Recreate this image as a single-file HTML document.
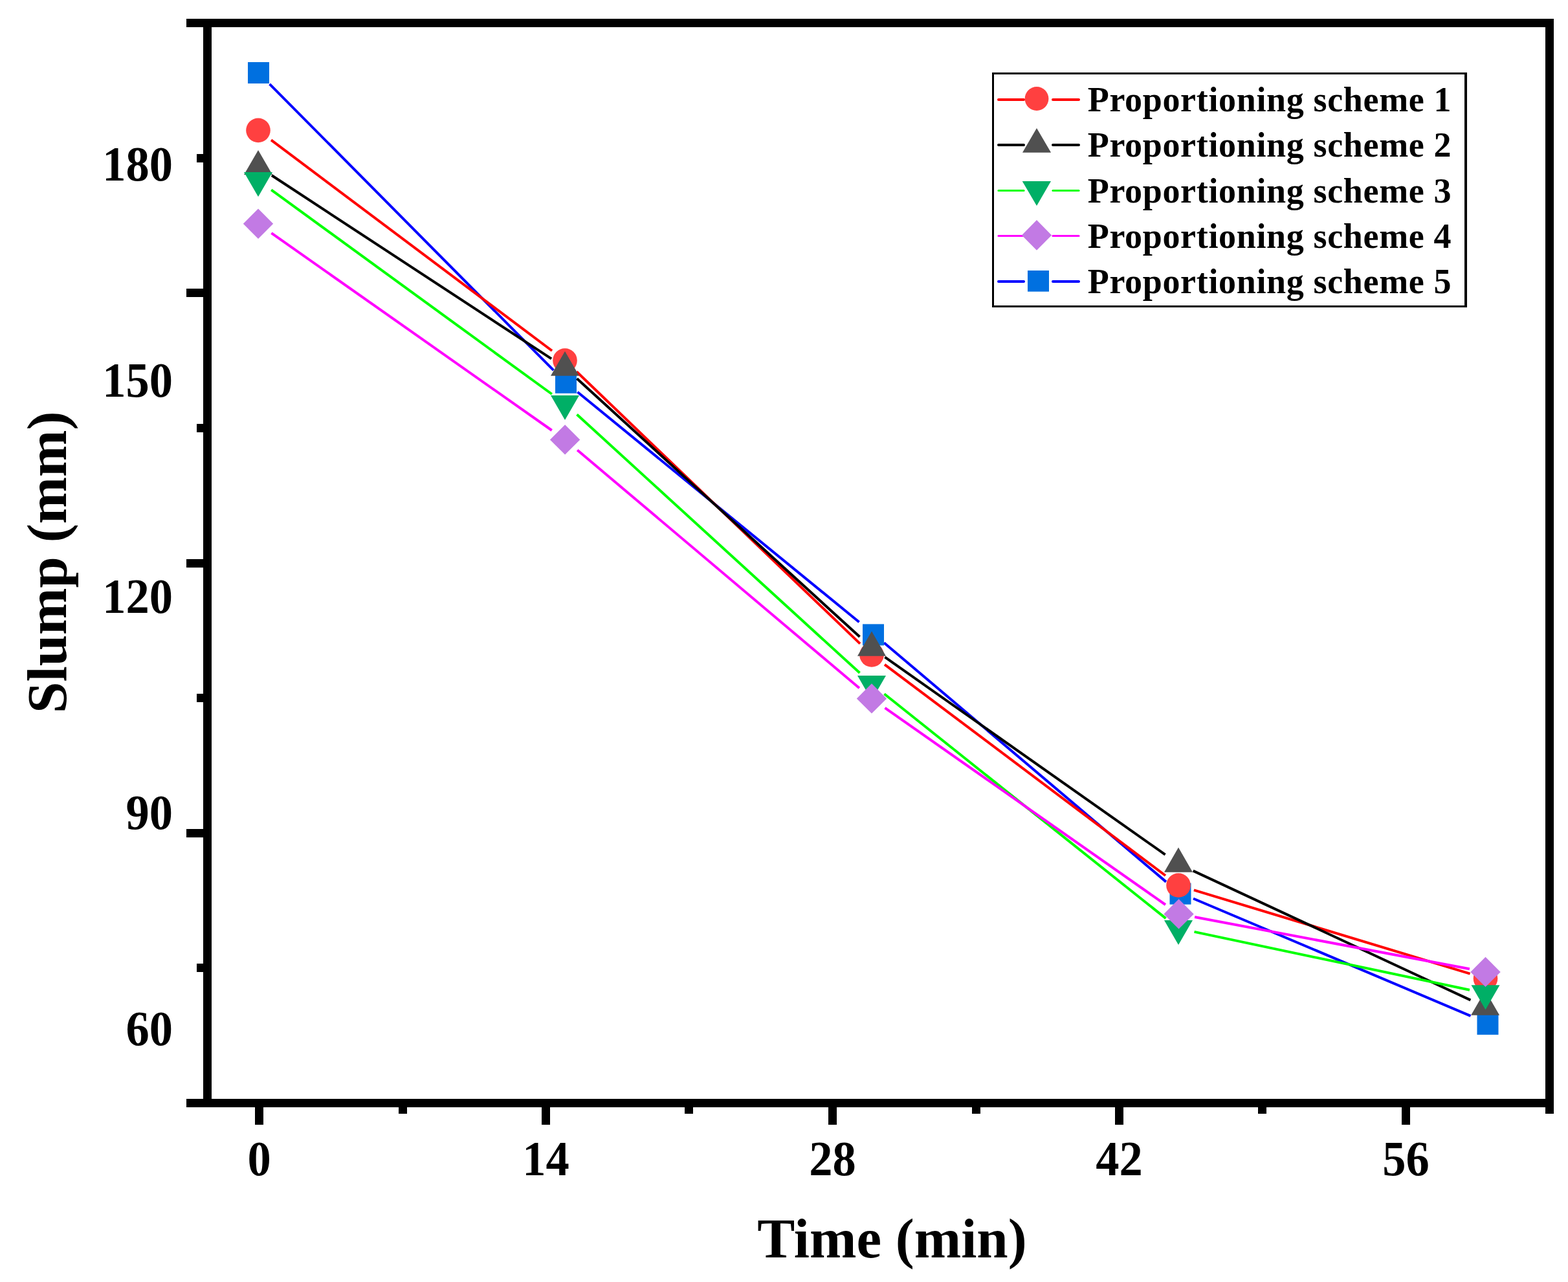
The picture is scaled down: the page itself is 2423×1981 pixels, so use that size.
<!DOCTYPE html>
<html><head><meta charset="utf-8"><style>
html,body{margin:0;padding:0;background:#fff;overflow:hidden}
svg{display:block}
</style></head><body>
<svg width="2423" height="1981" viewBox="0 0 2423 1981">
<rect x="0" y="0" width="2423" height="1981" fill="#fff"/>
<line x1="416.6" y1="129.8" x2="855.4" y2="572.2" stroke="#0000FF" stroke-width="4.0"/>
<line x1="892.4" y1="605.8" x2="1327.6" y2="961.2" stroke="#0000FF" stroke-width="4.0"/>
<line x1="1366.1" y1="993.2" x2="1801.9" y2="1362.6" stroke="#0000FF" stroke-width="4.0"/>
<line x1="1844.0" y1="1388.5" x2="2272.5" y2="1569.8" stroke="#0000FF" stroke-width="4.0"/>
<rect x="383.0" y="96.0" width="33" height="33" fill="#0070E0"/>
<rect x="858.0" y="574.8" width="33" height="33" fill="#0070E0"/>
<rect x="1333.0" y="964.4" width="33" height="33" fill="#0070E0"/>
<rect x="1807.5" y="1364.6" width="33" height="33" fill="#0070E0"/>
<rect x="2282.5" y="1565.9" width="33" height="33" fill="#0070E0"/>
<line x1="419.0" y1="216.4" x2="853.0" y2="542.0" stroke="#FF0000" stroke-width="4.0"/>
<line x1="891.0" y1="574.3" x2="1329.0" y2="994.6" stroke="#FF0000" stroke-width="4.0"/>
<line x1="1367.0" y1="1026.9" x2="1801.0" y2="1353.0" stroke="#FF0000" stroke-width="4.0"/>
<line x1="1844.9" y1="1375.3" x2="2271.6" y2="1504.7" stroke="#FF0000" stroke-width="4.0"/>
<circle cx="399" cy="201.4" r="18.8" fill="#FF4040"/>
<circle cx="873" cy="557" r="18.8" fill="#FF4040"/>
<circle cx="1347" cy="1011.9" r="18.8" fill="#FF4040"/>
<circle cx="1821" cy="1368" r="18.8" fill="#FF4040"/>
<circle cx="2295.5" cy="1512" r="18.8" fill="#FF4040"/>
<line x1="419.9" y1="271.0" x2="852.1" y2="554.4" stroke="#000000" stroke-width="4.0"/>
<line x1="891.5" y1="585.0" x2="1328.5" y2="984.1" stroke="#000000" stroke-width="4.0"/>
<line x1="1367.4" y1="1015.4" x2="1800.6" y2="1320.6" stroke="#000000" stroke-width="4.0"/>
<line x1="1843.7" y1="1345.6" x2="2272.4" y2="1545.4" stroke="#000000" stroke-width="4.0"/>
<polygon points="399.0,231.9 421.0,270.0 377.0,270.0" fill="#505050"/>
<polygon points="873.0,542.7 895.0,580.8 851.0,580.8" fill="#505050"/>
<polygon points="1347.0,975.6 1369.0,1013.7 1325.0,1013.7" fill="#505050"/>
<polygon points="1821.0,1309.6 1843.0,1347.7 1799.0,1347.7" fill="#505050"/>
<polygon points="2295.1,1530.6 2317.1,1568.7 2273.1,1568.7" fill="#505050"/>
<line x1="419.2" y1="293.4" x2="852.8" y2="609.0" stroke="#00FF00" stroke-width="4.0"/>
<line x1="891.5" y1="640.6" x2="1328.5" y2="1039.8" stroke="#00FF00" stroke-width="4.0"/>
<line x1="1366.5" y1="1072.3" x2="1801.5" y2="1419.1" stroke="#00FF00" stroke-width="4.0"/>
<line x1="1845.5" y1="1439.9" x2="2271.0" y2="1529.7" stroke="#00FF00" stroke-width="4.0"/>
<polygon points="399.0,304.1 421.0,266.0 377.0,266.0" fill="#00AF66"/>
<polygon points="873.0,649.1 895.0,611.0 851.0,611.0" fill="#00AF66"/>
<polygon points="1347.0,1082.1 1369.0,1044.0 1325.0,1044.0" fill="#00AF66"/>
<polygon points="1821.0,1460.1 1843.0,1422.0 1799.0,1422.0" fill="#00AF66"/>
<polygon points="2295.5,1560.3 2317.5,1522.2 2273.5,1522.2" fill="#00AF66"/>
<line x1="419.4" y1="360.1" x2="852.7" y2="665.0" stroke="#FF00FF" stroke-width="4.0"/>
<line x1="892.2" y1="695.5" x2="1327.9" y2="1063.3" stroke="#FF00FF" stroke-width="4.0"/>
<line x1="1367.5" y1="1093.8" x2="1801.0" y2="1398.0" stroke="#FF00FF" stroke-width="4.0"/>
<line x1="1846.1" y1="1417.0" x2="2270.9" y2="1497.3" stroke="#FF00FF" stroke-width="4.0"/>
<polygon points="399.0,322.5 422.2,345.7 399.0,368.9 375.8,345.7" fill="#C27AE4"/>
<polygon points="873.1,656.2 896.3,679.4 873.1,702.6 849.9,679.4" fill="#C27AE4"/>
<polygon points="1347.0,1056.2 1370.2,1079.4 1347.0,1102.6 1323.8,1079.4" fill="#C27AE4"/>
<polygon points="1821.5,1389.2 1844.7,1412.4 1821.5,1435.6 1798.3,1412.4" fill="#C27AE4"/>
<polygon points="2295.5,1478.7 2318.7,1501.9 2295.5,1525.1 2272.3,1501.9" fill="#C27AE4"/>
<rect x="288" y="29" width="2113" height="13" fill="#000"/>
<rect x="288" y="1698" width="2113" height="13" fill="#000"/>
<rect x="314" y="29" width="13" height="1682" fill="#000"/>
<rect x="2388" y="29" width="13" height="1692" fill="#000"/>
<rect x="288" y="446" width="26" height="13" fill="#000"/>
<rect x="288" y="864" width="26" height="13" fill="#000"/>
<rect x="288" y="1281" width="26" height="13" fill="#000"/>
<rect x="304" y="238" width="10" height="13" fill="#000"/>
<rect x="304" y="655" width="10" height="13" fill="#000"/>
<rect x="304" y="1072" width="10" height="13" fill="#000"/>
<rect x="304" y="1489" width="10" height="13" fill="#000"/>
<rect x="394" y="1711" width="13" height="27" fill="#000"/>
<rect x="616" y="1711" width="13" height="10" fill="#000"/>
<rect x="837" y="1711" width="13" height="27" fill="#000"/>
<rect x="1058" y="1711" width="13" height="10" fill="#000"/>
<rect x="1280" y="1711" width="13" height="27" fill="#000"/>
<rect x="1502" y="1711" width="13" height="10" fill="#000"/>
<rect x="1723" y="1711" width="13" height="27" fill="#000"/>
<rect x="1944" y="1711" width="13" height="10" fill="#000"/>
<rect x="2166" y="1711" width="13" height="27" fill="#000"/>
<text transform="translate(400.5,1816) scale(1,1.05)" text-anchor="middle" font-size="72.5" font-weight="bold" font-family='"Liberation Serif", "Times New Roman", serif'>0</text>
<text transform="translate(843.5,1816) scale(1,1.05)" text-anchor="middle" font-size="72.5" font-weight="bold" font-family='"Liberation Serif", "Times New Roman", serif'>14</text>
<text transform="translate(1286.5,1816) scale(1,1.05)" text-anchor="middle" font-size="72.5" font-weight="bold" font-family='"Liberation Serif", "Times New Roman", serif'>28</text>
<text transform="translate(1729.5,1816) scale(1,1.05)" text-anchor="middle" font-size="72.5" font-weight="bold" font-family='"Liberation Serif", "Times New Roman", serif'>42</text>
<text transform="translate(2172.5,1816) scale(1,1.05)" text-anchor="middle" font-size="72.5" font-weight="bold" font-family='"Liberation Serif", "Times New Roman", serif'>56</text>
<text transform="translate(267,278.8) scale(1,1.05)" text-anchor="end" font-size="72.5" font-weight="bold" font-family='"Liberation Serif", "Times New Roman", serif'>180</text>
<text transform="translate(267,612.9) scale(1,1.05)" text-anchor="end" font-size="72.5" font-weight="bold" font-family='"Liberation Serif", "Times New Roman", serif'>150</text>
<text transform="translate(267,947.0) scale(1,1.05)" text-anchor="end" font-size="72.5" font-weight="bold" font-family='"Liberation Serif", "Times New Roman", serif'>120</text>
<text transform="translate(267,1281.1) scale(1,1.05)" text-anchor="end" font-size="72.5" font-weight="bold" font-family='"Liberation Serif", "Times New Roman", serif'>90</text>
<text transform="translate(267,1615.2) scale(1,1.05)" text-anchor="end" font-size="72.5" font-weight="bold" font-family='"Liberation Serif", "Times New Roman", serif'>60</text>
<text x="1378.5" y="1943" text-anchor="middle" font-size="87" font-weight="bold" font-family='"Liberation Serif", "Times New Roman", serif'>Time (min)</text>
<text transform="translate(102.3,868.7) rotate(-90)" x="0" y="0" text-anchor="middle" font-size="87" font-weight="bold" font-family='"Liberation Serif", "Times New Roman", serif'>Slump (mm)</text>
<rect x="1533" y="112" width="734" height="3" fill="#000"/>
<rect x="1533" y="472" width="734" height="3" fill="#000"/>
<rect x="1533" y="112" width="3" height="363" fill="#000"/>
<rect x="2263" y="112" width="4" height="363" fill="#000"/>
<line x1="1543" y1="154.0" x2="1582" y2="154.0" stroke="#FF0000" stroke-width="4" stroke-linecap="round"/>
<line x1="1627" y1="154.0" x2="1667" y2="154.0" stroke="#FF0000" stroke-width="4" stroke-linecap="round"/>
<circle cx="1602" cy="152.5" r="18.4" fill="#FF4040"/>
<text x="1680.8" y="171.9" letter-spacing="0.66" font-size="54" font-weight="bold" font-family='"Liberation Serif", "Times New Roman", serif'>Proportioning scheme 1</text>
<line x1="1543" y1="224.0" x2="1582" y2="224.0" stroke="#000000" stroke-width="4" stroke-linecap="round"/>
<line x1="1627" y1="224.0" x2="1667" y2="224.0" stroke="#000000" stroke-width="4" stroke-linecap="round"/>
<polygon points="1602,198.1 1624.1,235.7 1580,235.7" fill="#505050"/>
<text x="1680.8" y="242.4" letter-spacing="0.66" font-size="54" font-weight="bold" font-family='"Liberation Serif", "Times New Roman", serif'>Proportioning scheme 2</text>
<line x1="1543" y1="294.5" x2="1582" y2="294.5" stroke="#00FF00" stroke-width="3.2" stroke-linecap="round"/>
<line x1="1627" y1="294.5" x2="1667" y2="294.5" stroke="#00FF00" stroke-width="3.2" stroke-linecap="round"/>
<polygon points="1579.7,280 1624,280 1602,318" fill="#00AF66"/>
<text x="1680.8" y="312.6" letter-spacing="0.66" font-size="54" font-weight="bold" font-family='"Liberation Serif", "Times New Roman", serif'>Proportioning scheme 3</text>
<line x1="1543" y1="364.5" x2="1582" y2="364.5" stroke="#FF00FF" stroke-width="3.2" stroke-linecap="round"/>
<line x1="1627" y1="364.5" x2="1667" y2="364.5" stroke="#FF00FF" stroke-width="3.2" stroke-linecap="round"/>
<polygon points="1602.0,340.1 1625.1,363.4 1602.0,386.7 1578.9,363.4" fill="#C27AE4"/>
<text x="1680.8" y="383.0" letter-spacing="0.66" font-size="54" font-weight="bold" font-family='"Liberation Serif", "Times New Roman", serif'>Proportioning scheme 4</text>
<line x1="1543" y1="435.0" x2="1582" y2="435.0" stroke="#0000FF" stroke-width="4" stroke-linecap="round"/>
<line x1="1627" y1="435.0" x2="1667" y2="435.0" stroke="#0000FF" stroke-width="4" stroke-linecap="round"/>
<rect x="1588" y="418" width="33" height="32.6" fill="#0070E0"/>
<text x="1680.8" y="453.4" letter-spacing="0.66" font-size="54" font-weight="bold" font-family='"Liberation Serif", "Times New Roman", serif'>Proportioning scheme 5</text>
</svg>
</body></html>
